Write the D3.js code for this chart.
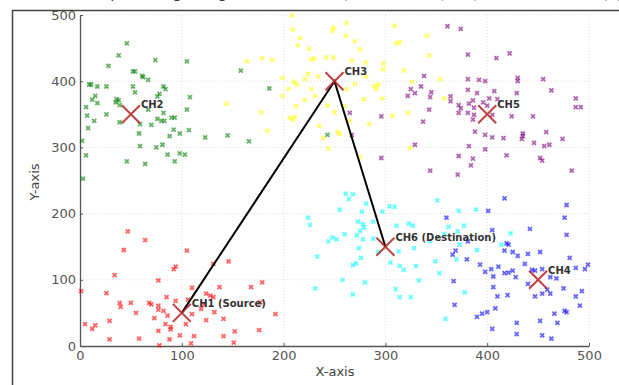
<!DOCTYPE html>
<html>
<head>
<meta charset="utf-8">
<script src="https://cdn.jsdelivr.net/npm/d3@7"></script>
<style>
    body { margin: 0; background: #ffffff; }
    svg { display: block; font-family: 'DejaVu Sans', sans-serif; }
</style>
</head>
<body>
<div id="chart"></div>
<script>
// sensor nodes of each cluster, [x, y]
var ch1Nodes = [[47,173],[64,160],[43,145],[105,144],[94,120],[92,116],[34,107],[77,99],[1,83],[110,88],[26,80],[85,74],[39,65],[40,59],[50,65],[68,65],[70,63],[94,68],[77,61],[77,55],[82,53],[106,70],[55,50],[73,42],[86,46],[110,48],[29,38],[5,33],[15,31],[12,26],[84,33],[89,29],[89,25],[104,33],[77,23],[98,16],[112,15],[29,10],[58,11],[88,10],[78,1],[109,4],[131,124],[146,128],[137,89],[168,89],[179,96],[128,76],[131,74],[122,62],[119,56],[124,39],[141,41],[132,51],[192,48],[177,66],[152,22],[176,24],[141,15],[151,5],[124,79]];
var ch2Nodes = [[46,457],[38,439],[28,423],[74,432],[105,430],[52,415],[54,415],[61,408],[62,406],[67,402],[9,395],[11,395],[17,392],[26,392],[52,392],[54,383],[82,392],[84,388],[78,381],[76,377],[15,378],[108,376],[12,372],[17,367],[36,373],[38,371],[6,361],[35,368],[39,364],[67,357],[105,357],[82,352],[7,348],[26,350],[76,343],[80,340],[83,340],[90,345],[93,345],[14,340],[39,338],[59,335],[70,334],[8,329],[92,327],[107,326],[98,321],[88,317],[58,321],[123,315],[2,310],[59,302],[75,300],[81,304],[6,288],[86,289],[98,291],[103,289],[46,279],[64,275],[93,279],[3,253],[158,416],[186,389],[145,318],[166,309],[243,319]];
var ch3Nodes = [[208,499],[209,478],[249,481],[248,476],[262,488],[216,465],[261,469],[270,460],[214,454],[225,449],[275,448],[164,430],[179,435],[189,432],[227,433],[230,434],[242,436],[249,436],[267,431],[281,428],[298,427],[298,418],[318,416],[224,411],[199,405],[221,403],[234,407],[210,399],[213,395],[205,388],[227,388],[262,388],[270,396],[289,393],[293,395],[291,388],[281,407],[199,378],[221,372],[231,378],[279,373],[297,374],[144,366],[212,362],[243,363],[260,362],[178,353],[250,353],[206,345],[211,346],[209,342],[307,348],[265,340],[284,335],[235,332],[184,325],[253,323],[255,320],[239,314],[244,298],[275,285],[341,469],[343,439],[326,399],[354,403],[358,374],[322,352],[324,299],[314,459],[309,484],[311,457]];
var ch4Nodes = [[417,223],[478,213],[401,204],[476,194],[360,194],[442,177],[405,175],[478,168],[381,158],[419,155],[421,153],[417,144],[425,142],[430,136],[440,139],[452,142],[369,144],[366,138],[380,131],[481,133],[393,123],[437,124],[411,120],[404,116],[425,114],[421,111],[417,110],[444,115],[447,114],[398,112],[454,116],[487,118],[496,116],[499,123],[406,105],[428,104],[462,104],[468,102],[367,98],[440,94],[406,89],[475,87],[493,83],[459,85],[462,79],[410,75],[420,77],[447,75],[454,79],[487,75],[368,62],[408,57],[491,61],[400,51],[395,49],[390,44],[466,49],[476,53],[478,51],[452,38],[469,35],[429,35],[405,26],[429,18],[454,16],[463,11]];
var ch5Nodes = [[361,483],[374,479],[381,440],[409,435],[422,442],[338,408],[381,403],[392,402],[398,400],[430,405],[430,400],[455,403],[335,392],[325,388],[329,382],[322,378],[381,387],[390,382],[407,385],[429,382],[463,386],[345,383],[344,376],[364,377],[364,370],[402,374],[410,373],[386,371],[396,368],[487,374],[487,361],[492,361],[372,364],[374,359],[382,366],[387,360],[400,363],[343,357],[372,352],[381,352],[387,349],[386,342],[405,349],[424,347],[445,347],[337,339],[388,324],[398,319],[405,315],[416,314],[435,321],[435,317],[434,313],[458,323],[474,313],[446,307],[329,304],[382,302],[456,302],[461,304],[398,297],[372,287],[386,283],[419,288],[452,284],[454,280],[384,273],[344,265],[371,259],[483,265],[265,352],[296,347],[267,319],[296,284]];
var ch6Nodes = [[261,230],[268,229],[264,222],[281,215],[255,206],[277,203],[304,211],[309,210],[297,203],[224,194],[226,183],[273,188],[278,184],[279,179],[288,188],[311,182],[275,174],[272,167],[260,169],[248,164],[252,161],[244,158],[278,161],[288,162],[293,142],[274,148],[313,143],[233,135],[276,133],[271,125],[268,122],[305,126],[314,121],[318,115],[258,100],[280,96],[231,87],[310,86],[268,78],[314,74],[351,220],[372,204],[389,206],[323,185],[327,182],[362,180],[377,182],[358,169],[371,173],[344,158],[328,148],[373,153],[390,145],[370,131],[330,121],[349,128],[353,110],[333,99],[378,81],[325,74],[359,41],[423,170],[414,153]];

var clusterColors = ['red', 'green', 'yellow', 'blue', 'purple', 'cyan'];

var headNames = ['CH1 (Source)', 'CH2', 'CH3', 'CH4', 'CH5', 'CH6 (Destination)'];
var headX = [100, 50, 250, 450, 400, 300];
var headY = [50, 350, 400, 100, 350, 150];

// route through the cluster heads (indices into the head arrays)
var route = [0, 2, 5];

var xTicks = [0, 100, 200, 300, 400, 500];
var yTicks = [0, 100, 200, 300, 400, 500];

var width = 619, height = 385;
var margin = {left: 80, right: 30, top: 15, bottom: 39};

var svg = d3.select('#chart')
    .append('svg')
    .attr('width', width)
    .attr('height', height);

var x = d3.scaleLinear().domain([0, 500]).range([margin.left, width - margin.right]);
var y = d3.scaleLinear().domain([0, 500]).range([height - margin.bottom, margin.top]);

// title, only its descenders are visible in the screenshot
svg.append('text')
    .attr('x', 335)
    .attr('y', -2)
    .attr('text-anchor', 'middle')
    .style('font-size', '15px')
    .style('fill', '#333')
    .text('Multi-hop Routing using Cluster Heads (Source: CH1) to (Destination: CH6) (');

// outer frame
svg.append('path')
    .attr('d', 'M12.5,' + height + 'V10.5H' + width)
    .style('fill', 'none')
    .style('stroke', '#444')
    .style('stroke-width', 1.5);

// grid
var grid = svg.append('g');
grid.selectAll('.gx')
    .data(xTicks.slice(1))
    .enter()
    .append('line')
    .attr('x1', function (d) { return x(d); })
    .attr('x2', function (d) { return x(d); })
    .attr('y1', y(0))
    .attr('y2', y(500));
grid.selectAll('.gy')
    .data(yTicks.slice(1))
    .enter()
    .append('line')
    .attr('x1', x(0))
    .attr('x2', x(500))
    .attr('y1', function (d) { return y(d); })
    .attr('y2', function (d) { return y(d); });
grid.selectAll('line')
    .style('stroke', '#d8d8d8')
    .style('stroke-width', 0.8)
    .style('stroke-dasharray', '1,2');

// axes
var xAxis = svg.append('g')
    .attr('transform', 'translate(0,' + y(0) + ')')
    .call(d3.axisBottom(x).tickValues(xTicks).tickSizeInner(-3).tickSizeOuter(0).tickPadding(5));
var yAxis = svg.append('g')
    .attr('transform', 'translate(' + x(0) + ',0)')
    .call(d3.axisLeft(y).tickValues(yTicks).tickSizeInner(-3).tickSizeOuter(0).tickPadding(4));

[xAxis, yAxis].forEach(function (ax) {
    ax.select('.domain').style('stroke', '#555').style('stroke-width', 1.3);
    ax.selectAll('.tick line').style('stroke', '#555').style('stroke-width', 1);
    ax.selectAll('.tick text')
        .style('font-family', 'DejaVu Sans')
        .style('font-size', '13px')
        .style('fill', '#555');
});
yAxis.selectAll('.tick text').attr('x', -4);

svg.append('text')
    .attr('x', 335)
    .attr('y', 376)
    .attr('text-anchor', 'middle')
    .style('font-size', '13px')
    .style('fill', '#444')
    .text('X-axis');
svg.append('text')
    .attr('transform', 'translate(39,182) rotate(-90)')
    .attr('text-anchor', 'middle')
    .style('font-size', '13px')
    .style('fill', '#444')
    .text('Y-axis');

// nodes
var clusters = [ch1Nodes, ch2Nodes, ch3Nodes, ch4Nodes, ch5Nodes, ch6Nodes];
var smallX = 'M-2,-2L2,2M-2,2L2,-2';

clusters.forEach(function (nodes, i) {
    svg.append('g')
        .selectAll('path')
        .data(nodes)
        .enter()
        .append('path')
        .attr('transform', function (d) {
            return 'translate(' + x(d[0]) + ',' + y(d[1]) + ')';
        })
        .attr('d', smallX)
        .style('stroke', clusterColors[i])
        .style('stroke-width', 1.8)
        .style('opacity', 0.6);
});

// route line
var routeLine = d3.line()
    .x(function (i) { return x(headX[i]); })
    .y(function (i) { return y(headY[i]); });
svg.append('path')
    .datum(route)
    .attr('d', routeLine)
    .style('fill', 'none')
    .style('stroke', '#000')
    .style('stroke-width', 2);

// cluster heads
var heads = svg.append('g')
    .selectAll('g')
    .data(headNames)
    .enter()
    .append('g')
    .attr('transform', function (d, i) {
        return 'translate(' + x(headX[i]) + ',' + y(headY[i]) + ')';
    });
heads.append('path')
    .attr('d', 'M-9,-9L9,9M-9,9L9,-9')
    .style('stroke', '#b22222')
    .style('stroke-width', 2)
    .style('opacity', 0.85);
heads.append('text')
    .attr('x', 10)
    .attr('y', -6)
    .style('font-size', '10px')
    .style('font-weight', 'bold')
    .style('fill', '#333')
    .text(function (d) { return d; });
</script>
</body>
</html>
